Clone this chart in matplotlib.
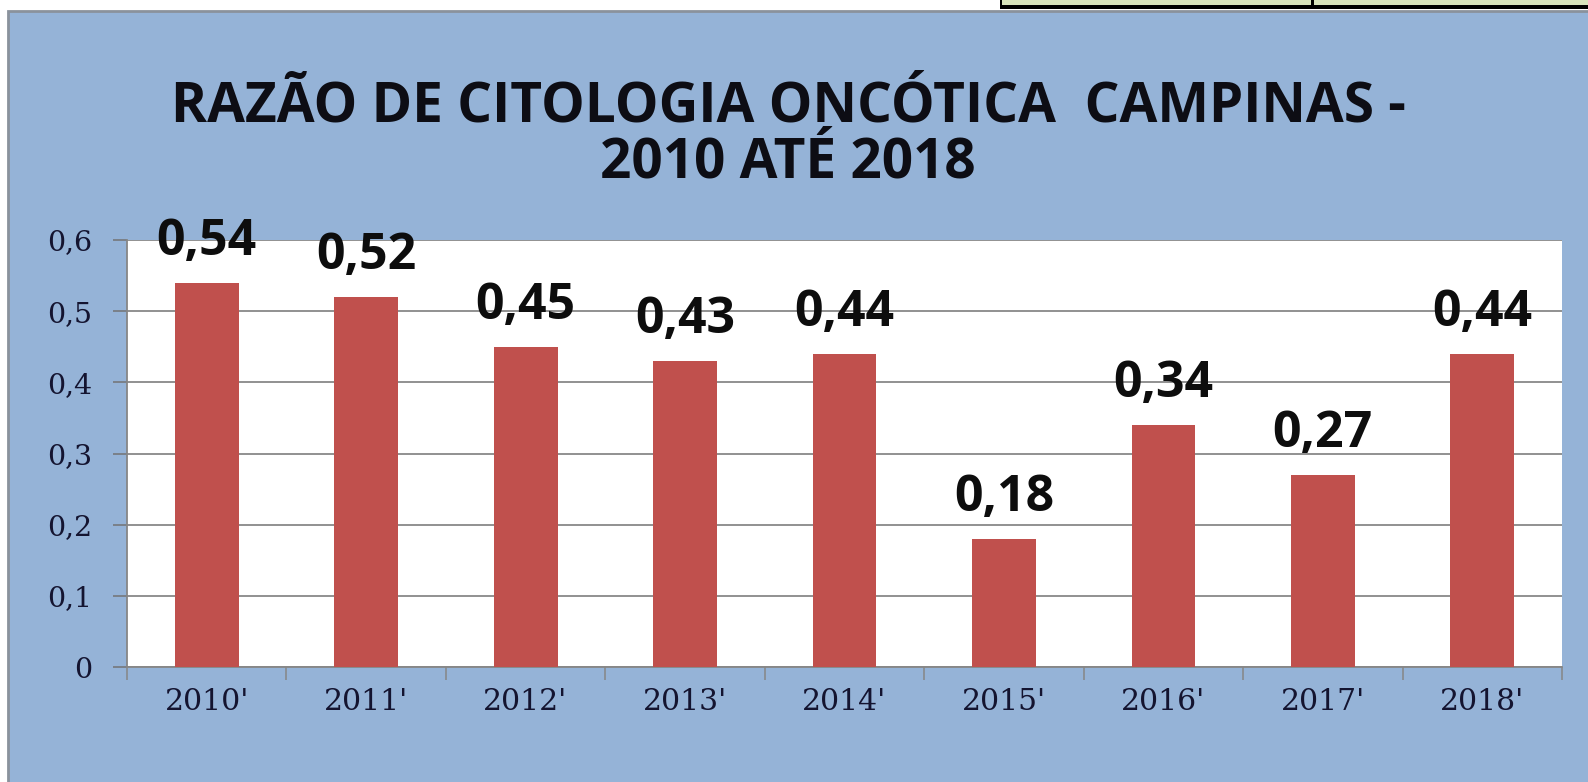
import matplotlib
matplotlib.use('Agg')
import matplotlib.pyplot as plt
from matplotlib.patches import Rectangle
from matplotlib.ticker import FixedLocator

# ---- data ----
categories = ["2010'", "2011'", "2012'", "2013'", "2014'", "2015'", "2016'", "2017'", "2018'"]
values = [0.54, 0.52, 0.45, 0.43, 0.44, 0.18, 0.34, 0.27, 0.44]
yticks = [0, 0.1, 0.2, 0.3, 0.4, 0.5, 0.6]
ytick_labels = ["0", "0,1", "0,2", "0,3", "0,4", "0,5", "0,6"]
title_line1 = "RAZÃO DE CITOLOGIA ONCÓTICA  CAMPINAS -"
title_line2 = "2010 ATÉ 2018"

W, H = 1588, 782
fig = plt.figure(figsize=(W / 100, H / 100), dpi=100, facecolor='white')

def fx(px):
    return px / W

def fy(py):
    return 1 - py / H

# chart area background
fig.patches.append(Rectangle((fx(8), -0.02), 1.05 - fx(8), fy(11) + 0.02,
                             transform=fig.transFigure, facecolor='#95B3D7',
                             edgecolor='#8a929c', linewidth=2.0, zorder=-10))
# top-right green box remnant
fig.patches.append(Rectangle((fx(1000), fy(5.5)), 1.05 - fx(1000), 5.5 / H + 0.01,
                             transform=fig.transFigure, facecolor='#D8E4BC',
                             edgecolor='none', zorder=-9))
fig.patches.append(Rectangle((fx(1000), fy(8.8)), 1.05 - fx(1000), 3.3 / H,
                             transform=fig.transFigure, facecolor='black',
                             edgecolor='none', zorder=-8))
for xv in (1000, 1311):
    fig.patches.append(Rectangle((fx(xv), fy(8.8)), 2.5 / W, 8.8 / H + 0.01,
                                 transform=fig.transFigure, facecolor='black',
                                 edgecolor='none', zorder=-8))

# title
fig.text(fx(788), fy(121), title_line1, ha='center', va='baseline',
         fontsize=39.5, fontweight='bold', family='Open Sans', color='#0d0d14')
fig.text(fx(788), fy(177), title_line2, ha='center', va='baseline',
         fontsize=39.5, fontweight='bold', family='Open Sans', color='#0d0d14')

# axes
ax = fig.add_axes([fx(127), fy(667), (1562 - 127) / W, (667 - 240) / H])
ax.set_zorder(2)
ax.set_facecolor('white')
x = list(range(len(categories)))
ax.bar(x, values, width=0.4, color='#C0504D', zorder=3)
ax.set_xlim(-0.5, len(categories) - 0.5)
ax.set_ylim(0, 0.6)

ax.yaxis.set_major_locator(FixedLocator(yticks))
ax.set_yticklabels(ytick_labels)
ax.grid(axis='y', color='#737373', linewidth=1.1, zorder=1)
ax.set_axisbelow(True)

ax.set_xticks(x)
ax.set_xticklabels(categories)
ax.xaxis.set_minor_locator(FixedLocator([i - 0.5 for i in range(len(categories) + 1)]))

for s in ('top', 'right'):
    ax.spines[s].set_visible(False)
for s in ('left', 'bottom'):
    ax.spines[s].set_color('#868686')
    ax.spines[s].set_linewidth(1.3)

ax.tick_params(axis='y', direction='out', length=10, width=1.1, color='#737373',
               pad=15, labelsize=20.5, labelcolor='#141430')
ax.tick_params(axis='x', which='major', length=0, pad=15, labelsize=21.5,
               labelcolor='#141430')
ax.tick_params(axis='x', which='minor', direction='out', length=9, width=1.1,
               color='#868686')
for lab in ax.get_xticklabels() + ax.get_yticklabels():
    lab.set_family('DejaVu Serif')

# data labels
for xi, v in zip(x, values):
    ax.annotate(f"{v:.2f}".replace('.', ','), xy=(xi, v), xytext=(0, 20),
                textcoords='offset points', ha='center', va='baseline',
                fontsize=36, fontweight='bold', family='Open Sans',
                color='#0d0d0d', annotation_clip=False, zorder=5)

fig.savefig('out.png', dpi=100, facecolor='white')
